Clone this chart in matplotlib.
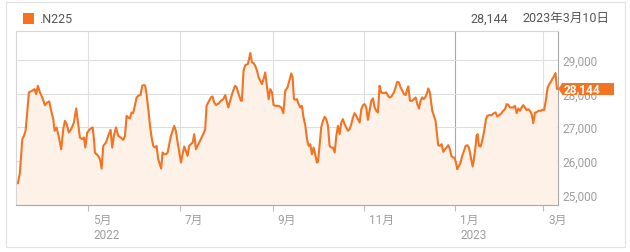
import matplotlib
matplotlib.use("Agg")
import matplotlib.pyplot as plt
import matplotlib.dates as mdates
from matplotlib.patches import Rectangle, Polygon
from matplotlib.transforms import ScaledTranslation
import pandas as pd

plt.rcParams['font.family'] = ['Roboto', 'Noto Sans CJK JP', 'DejaVu Sans']

# ---- data ----
start_date = "2022-03-14"
day_offsets = [
    0.0, 0.9, 2.2, 3.8, 4.9, 6.0, 7.1, 8.2, 10.4, 12.0, 13.1, 14.2, 15.6, 17.1, 18.9, 20.5, 21.8, 23.1, 24.5, 25.4,
    26.7, 28.3, 29.8, 31.2, 32.3, 33.4, 34.9, 36.5, 38.3, 39.8, 41.0, 42.3, 43.9, 45.0, 45.9, 47.2,
    49.0, 50.8, 51.7, 52.3, 53.4, 54.5, 55.7, 56.8, 57.9, 59.7, 61.2, 62.8, 63.9, 65.0, 66.4, 67.9, 69.5, 71.3, 72.4, 73.5,
    74.6, 75.7, 76.8, 77.9, 79.0, 80.2, 81.3, 82.8, 83.9, 85.1, 85.9, 86.8, 88.0, 89.1, 90.2, 91.3, 92.4, 93.5, 94.6, 95.7,
    96.6, 97.5, 98.6,
    99.8, 100.9, 102.0, 103.1, 104.2, 105.3, 106.4, 107.6, 108.7, 109.8, 110.9, 112.0, 113.1, 114.2, 115.3, 116.5, 117.6,
    118.7, 119.8, 120.9, 122.0, 123.1, 124.7, 126.0, 126.9, 128.3, 129.8, 130.9, 132.0, 133.2, 134.9, 136.5, 138.1, 139.4,
    140.3, 141.4, 142.7, 144.3, 145.9, 147.0, 148.3, 149.9,
    150.5, 151.6, 152.8, 154.5, 155.4, 156.1, 157.2, 158.3, 159.4, 160.6, 161.7, 162.8, 163.9, 165.0, 166.1, 167.2, 168.4,
    169.5, 170.6, 171.7, 172.8, 175.0, 176.8, 178.2, 179.5, 181.0, 182.2, 183.5, 184.4, 185.3, 186.2, 187.3, 188.4, 189.5,
    190.6, 191.7, 192.9, 194.0, 195.1, 196.2, 197.3, 198.4, 199.5, 200.6,
    201.3, 202.4, 203.5, 204.7, 205.8, 206.9, 208.0, 209.1, 210.2, 211.3, 212.5, 213.6, 214.7, 215.8, 216.9, 218.0, 219.1,
    220.2, 221.4, 222.5, 223.6, 224.7, 225.8, 226.9, 228.0, 229.2, 230.3, 231.4, 232.5, 233.6, 234.7, 235.8, 237.0, 238.1,
    239.2, 240.3, 241.4, 242.5, 243.6, 244.7, 245.9, 247.0, 248.1, 249.2, 250.3, 251.4,
    252.1, 253.2, 254.3, 255.4, 256.5, 257.7, 258.8, 259.9, 261.0, 261.7, 262.8, 264.3, 265.5, 266.6, 267.7, 268.8, 269.9,
    271.0, 272.1, 273.3, 274.4, 275.0, 276.1, 277.0, 277.7, 278.8, 279.9, 280.6, 281.7, 282.8, 283.9, 285.1, 286.2, 287.3,
    288.4, 289.5, 290.4, 291.5, 292.6, 293.5, 294.4, 295.5, 296.6, 297.7, 298.9, 300.0, 301.1, 302.2, 303.3,
    304.7, 305.5, 306.4, 307.3, 308.0, 308.9, 310.0, 311.3, 312.2, 313.6, 314.5, 315.8, 317.4, 318.9, 320.0, 321.1, 322.5,
    324.0, 325.1, 326.3, 327.4, 328.5, 329.6, 330.7, 331.8, 332.9, 334.1, 335.2, 336.3, 337.4, 338.5, 339.6, 340.7, 341.8,
    343.0, 344.1, 345.2, 346.3, 347.4, 348.5, 350.1, 351.4, 352.5, 353.7, 354.8, 355.9, 357.0, 358.1, 359.2, 360.0, 361.0,
]
closes = [
    25328, 25328, 25647, 26642, 26741, 26891, 27438, 28035, 28085, 28134, 27985, 28234, 28035, 27886, 27657, 27736, 27766,
    27488, 27239, 26891, 26990, 26692, 26343, 26940, 27189, 27090, 26841, 26940, 27139, 27557, 27139, 26692, 26642, 26692,
    26393, 26841,
    26940, 26990, 26642, 26244, 26194, 26144, 26045, 25766, 26443, 26542, 26741, 26920, 26393, 26741, 26990, 26741, 26692,
    26622, 26741, 27338, 27289, 27259, 27438, 27418, 27637, 27886, 27935, 27955, 28234, 28254, 28234, 27985, 27537, 27040,
    26692, 26443, 26393, 26443, 26045, 25896, 25766, 26244, 26194,
    26194, 26244, 26493, 26741, 26891, 27040, 26891, 26542, 26244, 25945, 26194, 26423, 26294, 26144, 26443, 26493, 26542,
    26791, 26343, 26443, 26542, 26642, 26791, 26940, 27637, 27756, 27886, 27915, 27736, 27657, 27706, 27786, 27836, 27955,
    27786, 27587, 27786, 28035, 28234, 28184, 27985, 27786,
    27786, 28682, 28851, 28881, 29050, 29209, 28930, 28910, 28831, 28682, 28483, 28383, 28284, 28433, 28632, 28234, 27836,
    28134, 28035, 27657, 27637, 27637, 27587, 27418, 28085, 28184, 28383, 28602, 28483, 27836, 27816, 27836, 27687, 27587,
    27637, 27289, 27040, 26642, 26443, 26493, 26194, 26393, 26194, 25945,
    25965, 26443, 26990, 27189, 27308, 27239, 27040, 26443, 26393, 26393, 26244, 26741, 27040, 26791, 27139, 27239, 27090,
    26990, 26891, 26940, 27090, 27289, 27418, 27338, 27239, 27139, 27537, 27657, 27687, 27587, 27219, 27488, 27786, 27856,
    27587, 27488, 27438, 28234, 28035, 28015, 28015, 28035, 27935, 27886, 27905, 27985,
    28035, 28184, 28353, 28333, 28184, 28085, 27985, 27955, 28134, 28214, 27786, 27786, 27836, 27886, 27687, 27557, 27786,
    27886, 27836, 27915, 28035, 28154, 28035, 27736, 27488, 27338, 27189, 26891, 26463, 26443, 26493, 26264, 26343, 26393,
    26463, 26343, 26144, 26095, 26095, 25945, 25746, 25846, 25945, 26144, 26294, 26443, 26463, 26393, 26144,
    25826, 26045, 26343, 26741, 26791, 26443, 26423, 26642, 26841, 27239, 27338, 27358, 27358, 27418, 27438, 27318, 27358,
    27418, 27488, 27537, 27687, 27667, 27587, 27587, 27587, 27637, 27418, 27557, 27488, 27587, 27657, 27587, 27507, 27537,
    27488, 27388, 27119, 27438, 27438, 27488, 27488, 27517, 27517, 27836, 28184, 28284, 28353, 28453, 28532, 28612, 28144,
]
tick_dates = ["2022-05-01", "2022-07-01", "2022-09-01", "2022-11-01", "2023-01-01", "2023-03-01"]
tick_labels = ["5月\n2022", "7月", "9月", "11月", "1月\n2023", "3月"]
y_ticks = [25000, 26000, 27000, 28000, 29000]
symbol = ".N225"
last_label = "28,144"
date_label = "2023年3月10日"

# ---- style ----
ORANGE = "#F37322"
FILL = "#FEF1E8"
GRID = "#dedede"
TXT = "#9e9e9e"
W, H = 630, 253

fig = plt.figure(figsize=(W / 100, H / 100), dpi=100)
fig.patch.set_facecolor("white")

left, right, top, bottom = 16, 557.7, 31.5, 205.7
ax = fig.add_axes([left / W, (H - bottom) / H, (right - left) / W, (bottom - top) / H])

start = pd.Timestamp(start_date)
x = start + pd.to_timedelta(day_offsets, unit="D")

y0, y1 = 24690, 29880
ax.set_ylim(y0, y1)
ax.set_xlim(start - pd.Timedelta(days=0.4), start + pd.Timedelta(days=361.5))

ax.fill_between(x, closes, y0, color=FILL, lw=0, zorder=1)
ax.plot(x, closes, color=ORANGE, lw=1.5, zorder=2, solid_joinstyle="round")

# grid
ax.set_axisbelow(True)
ax.set_yticks(y_ticks)
ax.set_yticklabels([f"{v:,}" for v in y_ticks])
ax.set_xticks(pd.to_datetime(tick_dates))
ax.set_xticklabels(tick_labels)
ax.grid(True, color=GRID, lw=0.8, zorder=0)
for i, gl in enumerate(ax.xaxis.get_gridlines()):
    if tick_labels[i].startswith("1月"):
        gl.set_color("#a8a8a8")

ax.yaxis.tick_right()
ax.tick_params(axis="y", length=0, pad=3.5, labelsize=8.5, labelcolor=TXT)
ax.tick_params(axis="x", direction="out", length=4, width=0.8, color="#bdbdbd",
               pad=2, labelsize=8.5, labelcolor=TXT)
off = ScaledTranslation(5 / 100, 0, fig.dpi_scale_trans)
for lab in ax.get_xticklabels():
    lab.set_horizontalalignment("left")
    lab.set_verticalalignment("top")
    lab.set_linespacing(1.15)
    lab.set_transform(lab.get_transform() + off)

for s in ["left", "top"]:
    ax.spines[s].set_color("#d6d6d6")
    ax.spines[s].set_linewidth(0.8)
for s in ["right", "bottom"]:
    ax.spines[s].set_color("#a8a8a8")
    ax.spines[s].set_linewidth(0.8)

# outer frame
fig.patches.append(Rectangle((5.5 / W, (H - 248) / H), (624.5 - 5.5) / W, (248 - 2.5) / H,
                             transform=fig.transFigure, fill=False, edgecolor="#e3e3e3", lw=0.9))

# header
fig.patches.append(Rectangle((23 / W, (H - 24.5) / H), 11 / W, 10.5 / H,
                             transform=fig.transFigure, color=ORANGE, lw=0))
fig.text(39 / W, 1 - 19.5 / H, symbol, ha="left", va="center", fontsize=9, color="#555555")
fig.text(508.5 / W, 1 - 19.5 / H, last_label, ha="right", va="center", fontsize=9, color="#555555")
fig.text(609 / W, 1 - 18.5 / H, date_label, ha="right", va="center", fontsize=9, color="#555555")

# last value callout (covers the 28,000 tick label as in the reference)
fig.canvas.draw()
yd = ax.transData.transform((mdates.date2num(x[-1]), closes[-1]))[1]
hh = 6.2
fig.patches.append(Rectangle((562 / W, (yd - hh) / H), (614 - 562) / W, 2 * hh / H,
                             transform=fig.transFigure, color=ORANGE, lw=0, zorder=5))
fig.patches.append(Polygon([(558.3 / W, yd / H), (562.5 / W, (yd + hh) / H), (562.5 / W, (yd - hh) / H)],
                           closed=True, transform=fig.transFigure, color=ORANGE, lw=0, zorder=5))
fig.text(563.5 / W, yd / H, last_label, ha="left", va="center", fontsize=8.5,
         fontweight="bold", color="white", zorder=6)

fig.savefig("out.png", dpi=100)
